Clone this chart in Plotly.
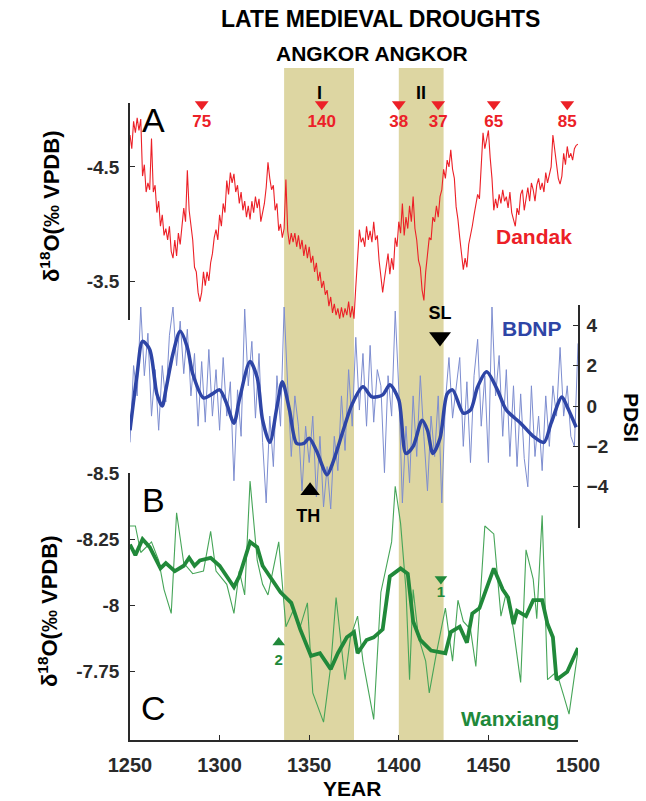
import plotly.graph_objects as go

# ---------------- data ----------------
years_x_ticks = [1250, 1300, 1350, 1400, 1450, 1500]

# Dandak d18O, annual from 1250 to 1500
dandak_years = list(range(1250, 1501))
dandak_d18o = [
    -4.78, -4.66, -4.90, -4.80, -4.93, -4.82, -4.92, -4.42, -4.52, -4.28,
    -4.36, -4.30, -4.75, -4.28, -4.34, -4.10, -4.20, -3.98, -4.08, -3.90,
    -3.96, -3.86, -3.98, -3.76, -3.70, -3.86, -3.72, -3.92, -3.82, -3.98,
    -4.14, -4.02, -4.47, -4.12, -4.01, -3.86, -3.62, -3.58, -3.40, -3.32,
    -3.40, -3.58, -3.46, -3.58, -3.50, -3.66, -3.74, -3.88, -3.95, -3.86,
    -4.08, -3.98, -4.18, -4.10, -4.38, -4.26, -4.45, -4.36, -4.44, -4.28,
    -4.34, -4.18, -4.28, -4.12, -4.20, -4.06, -4.16, -4.04, -4.20, -4.10,
    -4.24, -4.14, -4.22, -4.02, -4.10, -4.18, -4.32, -4.54, -4.40, -4.30,
    -4.34, -4.12, -4.18, -3.94, -4.00, -3.88, -3.96, -4.39, -3.94, -3.82,
    -3.92, -3.84, -3.92, -3.80, -3.90, -3.78, -3.86, -3.72, -3.82, -3.70,
    -3.80, -3.66, -3.72, -3.58, -3.66, -3.50, -3.58, -3.44, -3.50, -3.38,
    -3.42, -3.28, -3.36, -3.22, -3.30, -3.20, -3.26, -3.17, -3.27, -3.18,
    -3.26, -3.20, -3.32, -3.18, -3.28, -3.17, -3.45, -3.75, -3.95, -3.84,
    -3.88, -3.80, -3.98, -3.86, -3.94, -3.84, -4.02, -3.86, -3.90, -3.68,
    -3.55, -3.40, -3.52, -3.62, -3.74, -3.56, -3.70, -3.60, -3.88, -3.80,
    -4.02, -3.92, -4.18, -3.90, -4.06, -3.96, -4.16, -4.02, -4.24, -3.96,
    -3.86, -3.68, -3.62, -3.42, -3.33, -3.58, -3.72, -3.88, -3.86, -4.06,
    -4.02, -4.16, -4.06, -4.24, -4.30, -4.48, -4.40, -4.56, -4.50, -4.65,
    -4.48, -4.40, -4.15, -4.04, -3.88, -3.76, -3.60, -3.70, -3.62, -3.82,
    -3.89, -3.98, -4.08, -4.16, -4.26, -4.22, -4.50, -4.80, -4.66, -4.74,
    -4.82, -4.58, -4.40, -4.12, -4.22, -4.14, -4.26, -4.18, -4.30, -4.20,
    -4.24, -4.14, -4.28, -4.10, -4.04, -3.98, -4.14, -4.08, -4.26, -4.30,
    -4.12, -4.24, -4.32, -4.20, -4.36, -4.30, -4.20, -4.34, -4.40, -4.30,
    -4.36, -4.28, -4.45, -4.36, -4.44, -4.50, -4.78, -4.64, -4.50, -4.40,
    -4.35, -4.42, -4.62, -4.52, -4.68, -4.58, -4.62, -4.56, -4.66, -4.69,
    -4.70,
]

# BDNP PDSI (thin), every 2 years from 1250 to 1500
bdnp_years = list(range(1250, 1501, 2))
bdnp_pdsi = [
    -1.8, 2.0, 0.5, 4.9, 1.5, 3.6, -0.5, 1.8, -1.2, 2.0,
    0.2, 3.5, 4.9, 2.0, 4.2, 1.6, 3.8, 0.5, 2.6, -1.0,
    2.2, -0.8, 2.8, -0.5, 1.8, -1.2, 2.4, -0.5, 1.2, -3.7,
    0.8, -1.5, 4.8, 1.0, 3.2, -0.6, 2.6, -1.8, -4.8, -0.5,
    -3.0, 1.5, -1.0, 4.9, 1.0, -2.5, 0.5, -1.0, -4.2, -1.0,
    -2.8, -0.5, -4.5, -1.5, -5.0, -3.0, -5.1, -1.5, -3.2, 0.5,
    -2.2, 1.8, -1.0, 3.4, -0.2, 2.6, -1.0, 3.0, -0.8, 1.8,
    1.0, -3.3, 1.5, -0.5, 4.7, 0.8, -4.8, -1.0, -3.8, 0.5,
    -2.5, 1.5, -1.5, -4.2, -0.5, -2.5, 0.5, -4.8, 0.2, 2.4,
    -0.6, 1.0, 2.4, -2.0, 1.2, -2.8, 1.5, 3.3, -1.0, 1.5,
    -2.8, 4.9, 0.5, 2.5, -1.5, 1.8, -2.5, 1.0, -3.0, 0.6,
    -2.6, -4.0, 1.0, -2.5, -0.5, -3.2, 0.5, -2.0, 1.0, -0.5,
    2.9, -0.5, 1.0, -1.5, -2.0, 3.1,
]

# BDNP PDSI smoothed
bdnp_smooth_years = [
    1250, 1254, 1257, 1261, 1265, 1268, 1270, 1274, 1278, 1282,
    1285, 1291, 1296, 1300, 1304, 1308, 1311, 1317, 1321, 1324,
    1328, 1332, 1335, 1339, 1343, 1347, 1350, 1354, 1360, 1363,
    1369, 1374, 1380, 1385, 1391, 1395, 1400, 1404, 1408, 1413,
    1416, 1419, 1423, 1427, 1430, 1436, 1440, 1444, 1449, 1455,
    1460, 1468, 1475, 1481, 1485, 1491, 1494, 1499,
]
bdnp_smooth_pdsi = [
    -1.2, 1.6, 3.2, 2.8, 0.6, 0.0, 0.8, 2.6, 3.7, 2.9,
    1.6, 0.4, 0.6, 0.8, 0.1, -0.85, 0.3, 2.2, 1.4, -0.7,
    -1.8, -0.05, 1.2, -0.2, -1.85, -1.85, -1.6, -2.2, -3.4, -2.85,
    -1.2, 0.1, 0.95, 0.45, 0.55, 1.05, 0.3, -2.35, -2.0, -0.7,
    -1.2, -2.35, -1.6, 0.6, 0.8, -0.35, -0.2, 0.95, 1.7, 0.8,
    -0.2, -0.85, -1.5, -1.8, -0.85, 0.45, -0.05, -1.05,
]

# Wanxiang d18O (thin, raw)
wanx_years = [
    1250, 1253, 1256, 1262, 1266, 1269, 1273, 1276, 1280, 1285,
    1291, 1295, 1298, 1304, 1308, 1311, 1314, 1317, 1321, 1324,
    1327, 1333, 1337, 1341, 1345, 1349, 1352, 1358, 1362, 1365,
    1370, 1373, 1377, 1380, 1386, 1390, 1396, 1398, 1401, 1404,
    1406, 1408, 1411, 1415, 1417, 1421, 1426, 1430, 1433, 1436,
    1440, 1443, 1448, 1453, 1457, 1460, 1464, 1468, 1471, 1475,
    1477, 1480, 1483, 1488, 1492, 1495, 1500,
]
wanx_d18o = [
    -8.30, -8.30, -8.20, -8.24, -8.17, -8.06, -7.97, -8.35, -8.16, -8.12,
    -8.13, -8.28, -8.13, -8.08, -7.97, -8.13, -8.04, -8.47, -8.17, -8.08,
    -8.04, -8.24, -7.92, -7.98, -7.92, -8.01, -7.67, -7.56, -7.77, -8.03,
    -7.72, -7.88, -7.96, -7.79, -7.57, -8.05, -8.24, -8.45, -8.31, -8.06,
    -7.72, -8.06, -7.88, -7.79, -7.67, -7.82, -7.99, -7.79, -8.02, -7.94,
    -7.91, -7.77, -8.30, -8.27, -7.96, -8.05, -7.91, -7.71, -8.21, -8.10,
    -7.95, -8.34, -7.72, -7.75, -7.66, -7.59, -7.83,
]

# Wanxiang d18O (thick, smoothed)
wanx_smooth_years = [
    1250, 1253, 1257, 1261, 1267, 1270, 1275, 1280, 1283, 1286,
    1289, 1295, 1300, 1308, 1311, 1317, 1321, 1324, 1329, 1334,
    1340, 1345, 1351, 1356, 1362, 1366, 1371, 1375, 1377, 1382,
    1386, 1391, 1395, 1401, 1405, 1408, 1412, 1418, 1426, 1429,
    1434, 1438, 1441, 1445, 1453, 1458, 1461, 1464, 1466, 1471,
    1475, 1480, 1483, 1486, 1488, 1494, 1500,
]
wanx_smooth_d18o = [
    -8.23, -8.19, -8.25, -8.22, -8.14, -8.16, -8.13, -8.15, -8.18, -8.15,
    -8.17, -8.18, -8.15, -8.07, -8.11, -8.24, -8.22, -8.15, -8.10, -8.05,
    -8.01, -7.91, -7.81, -7.82, -7.76, -7.82, -7.88, -7.90, -7.82, -7.87,
    -7.88, -7.91, -8.11, -8.14, -8.12, -7.94, -7.87, -7.83, -7.82, -7.90,
    -7.92, -7.86, -7.97, -7.99, -8.14, -8.06, -8.03, -7.93, -7.98, -7.96,
    -8.02, -8.02, -7.93, -7.88, -7.72, -7.75, -7.84,
]

drought_starts = [1336, 1400]
drought_ends = [1375, 1425]
drought_names = ["I", "II"]

dandak_date_years = [1290, 1357, 1400, 1422, 1453, 1494]
dandak_date_labels = ["75", "140", "38", "37", "65", "85"]

wanx_date_years = [1333, 1423.5]
wanx_date_labels = ["2", "1"]

# ---------------- styling ----------------
FONT = "Liberation Sans, Arial, Helvetica, sans-serif"
RED = "#ec2027"
BLUE = "#2e45a6"
BLUE_THIN = "#7d8dd0"
GREEN = "#21893a"
GREEN_THIN = "#46a558"
BAND = "#ddd6a2"
AX = "#2a2a2a"

W, H = 646, 801
L, R, T, B = 130, 68, 60, 61
PW, PH = W - L - R, H - T - B


def px(x):
    return (x - L) / PW


def py(y):
    return (H - B - y) / PH


fig = go.Figure()

# Dandak
fig.add_trace(go.Scatter(x=dandak_years, y=dandak_d18o, mode="lines",
                         line=dict(color=RED, width=1.1), xaxis="x", yaxis="y",
                         hoverinfo="skip", showlegend=False))
fig.add_trace(go.Scatter(x=dandak_date_years, y=[-5.05] * len(dandak_date_years),
                         mode="markers", marker=dict(symbol="triangle-down", size=12, color=RED),
                         cliponaxis=False, xaxis="x", yaxis="y", showlegend=False))
fig.add_trace(go.Scatter(x=dandak_date_years, y=[-4.885] * len(dandak_date_years),
                         mode="text", text=dandak_date_labels,
                         textfont=dict(family=FONT, size=17, color=RED, weight="bold"),
                         cliponaxis=False, xaxis="x", yaxis="y", showlegend=False))

# BDNP
fig.add_trace(go.Scatter(x=bdnp_years, y=bdnp_pdsi, mode="lines",
                         line=dict(color=BLUE_THIN, width=1.0),
                         xaxis="x", yaxis="y2", showlegend=False))
fig.add_trace(go.Scatter(x=bdnp_smooth_years, y=bdnp_smooth_pdsi, mode="lines",
                         line=dict(color=BLUE, width=3.5, shape="spline", smoothing=0.8),
                         xaxis="x", yaxis="y2", showlegend=False))
fig.add_trace(go.Scatter(x=[1423], y=[3.42], mode="markers",
                         marker=dict(symbol="triangle-down", size=19, color="black"),
                         cliponaxis=False, xaxis="x", yaxis="y2", showlegend=False))
fig.add_trace(go.Scatter(x=[1423], y=[4.55], mode="text", text=["SL"],
                         textfont=dict(family=FONT, size=18, color="black", weight="bold"),
                         cliponaxis=False, xaxis="x", yaxis="y2", showlegend=False))
fig.add_trace(go.Scatter(x=[1350.5], y=[-4.2], mode="markers",
                         marker=dict(symbol="triangle-up", size=17, color="black"),
                         cliponaxis=False, xaxis="x", yaxis="y2", showlegend=False))
fig.add_trace(go.Scatter(x=[1349.5], y=[-5.5], mode="text", text=["TH"],
                         textfont=dict(family=FONT, size=18, color="black", weight="bold"),
                         cliponaxis=False, xaxis="x", yaxis="y2", showlegend=False))

# Wanxiang
fig.add_trace(go.Scatter(x=wanx_years, y=wanx_d18o, mode="lines",
                         line=dict(color=GREEN_THIN, width=1.1),
                         xaxis="x", yaxis="y3", showlegend=False))
fig.add_trace(go.Scatter(x=wanx_smooth_years, y=wanx_smooth_d18o, mode="lines",
                         line=dict(color=GREEN, width=3.8),
                         xaxis="x", yaxis="y3", showlegend=False))
fig.add_trace(go.Scatter(x=[wanx_date_years[0]], y=[-7.86], mode="markers",
                         marker=dict(symbol="triangle-up", size=11, color=GREEN),
                         cliponaxis=False, xaxis="x", yaxis="y3", showlegend=False))
fig.add_trace(go.Scatter(x=[wanx_date_years[1]], y=[-8.10], mode="markers",
                         marker=dict(symbol="triangle-down", size=11, color=GREEN),
                         cliponaxis=False, xaxis="x", yaxis="y3", showlegend=False))
fig.add_trace(go.Scatter(x=wanx_date_years, y=[-7.79, -8.045], mode="text",
                         text=wanx_date_labels,
                         textfont=dict(family=FONT, size=15, color=GREEN, weight="bold"),
                         cliponaxis=False, xaxis="x", yaxis="y3", showlegend=False))

# drought bands
for s, e in zip(drought_starts, drought_ends):
    fig.add_shape(type="rect", xref="x", yref="paper", x0=s, x1=e,
                  y0=0, y1=py(68), fillcolor=BAND, line=dict(width=0), layer="below")

tickfont = dict(family=FONT, size=19, color=AX, weight="bold")
axis_common = dict(showgrid=False, zeroline=False, showline=True, linecolor=AX,
                   linewidth=1.5, ticks="inside", ticklen=5, tickwidth=1.3,
                   tickcolor=AX, tickfont=tickfont)

fig.update_layout(
    width=W, height=H,
    margin=dict(l=L, r=R, t=T, b=B, pad=0),
    paper_bgcolor="white", plot_bgcolor="rgba(0,0,0,0)",
    showlegend=False,
    xaxis=dict(range=[1250, 1500], domain=[0, 1], anchor="y3",
               tickvals=years_x_ticks, ticklabelstandoff=6,
               tickfont=dict(family=FONT, size=20, color=AX, weight="bold"),
               **{k: v for k, v in axis_common.items() if k != "tickfont"}),
    yaxis=dict(domain=[py(320), py(103)], range=[-3.158, -5.061], anchor="x",
               tickvals=[-4.5, -3.5], ticktext=["-4.5", "-3.5"], ticklabelstandoff=5,
               **axis_common),
    yaxis2=dict(domain=[py(528), py(305)], range=[-6.04, 5.0], anchor="x", side="right",
                tickvals=[-4, -2, 0, 2, 4], ticklabelstandoff=3, **axis_common),
    yaxis3=dict(domain=[0, py(473)], range=[-7.4925, -8.5], anchor="x",
                tickvals=[-8.5, -8.25, -8, -7.75], ticktext=["-8.5", "-8.25", "-8", "-7.75"],
                ticklabelstandoff=5, **axis_common),
)


def ann(text, x, y, size, color="black", bold=True, angle=0, xanchor="center"):
    fig.add_annotation(text=text, x=px(x), y=py(y), xref="paper", yref="paper",
                       showarrow=False, textangle=angle, xanchor=xanchor, yanchor="middle",
                       font=dict(family=FONT, size=size, color=color,
                                 weight="bold" if bold else "normal"))


ann("LATE MEDIEVAL DROUGHTS", 380, 19, 23)
ann("ANGKOR ANGKOR", 372, 53, 21)
for s, e, n in zip(drought_starts, drought_ends, drought_names):
    fig.add_annotation(text=n, x=(s + e) / 2, y=py(81), xref="x", yref="paper",
                       showarrow=False, font=dict(family=FONT, size=18, color="black", weight="bold"))

ann("A", 153, 120, 34, bold=False)
ann("B", 153, 500, 34, bold=False)
ann("C", 153, 708, 34, bold=False)

ann("Dandak", 534, 237, 21, color=RED)
ann("BDNP", 532, 328, 21, color=BLUE)
ann("Wanxiang", 510, 718, 21, color=GREEN)

ann("δ<sup>18</sup>O(‰ VPDB)", 50, 207, 22, angle=-90)
ann("δ<sup>18</sup>O(‰ VPDB)", 48, 612, 22, angle=-90)
ann("PDSI", 632, 417, 21, angle=90)
ann("YEAR", 352, 788, 21)

fig.write_html("out.html",
               config={"displayModeBar": False},
               post_script="document.body.style.margin='0px';"
                           "document.body.style.overflow='hidden';")
